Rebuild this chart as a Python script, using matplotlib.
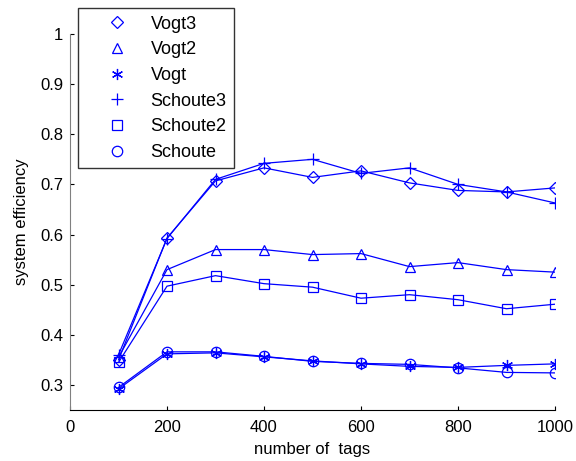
import matplotlib.pyplot as plt
from matplotlib.lines import Line2D
import numpy as np

plt.rcParams['font.family'] = ['Liberation Sans', 'DejaVu Sans']

# number of tags
tags = [100, 200, 300, 400, 500, 600, 700, 800, 900, 1000]

# system efficiency per algorithm
vogt3 = [0.350, 0.593, 0.707, 0.733, 0.714, 0.727, 0.703, 0.688, 0.685, 0.693]
vogt2 = [0.355, 0.530, 0.570, 0.570, 0.560, 0.562, 0.536, 0.544, 0.530, 0.525]
vogt = [0.292, 0.362, 0.364, 0.356, 0.348, 0.342, 0.337, 0.335, 0.339, 0.342]
schoute3 = [0.360, 0.592, 0.710, 0.742, 0.750, 0.722, 0.733, 0.700, 0.685, 0.663]
schoute2 = [0.345, 0.497, 0.518, 0.502, 0.495, 0.473, 0.480, 0.470, 0.452, 0.461]
schoute = [0.295, 0.366, 0.366, 0.357, 0.347, 0.343, 0.341, 0.334, 0.325, 0.324]

series = [
    (vogt3, 'D', 'Vogt3', 6.5),
    (vogt2, '^', 'Vogt2', 7.5),
    (vogt, (6, 2, 0), 'Vogt', 8),
    (schoute3, '+', 'Schoute3', 9),
    (schoute2, 's', 'Schoute2', 7.5),
    (schoute, 'o', 'Schoute', 7.5),
]
blue = '#0000ff'

fig = plt.figure(figsize=(5.76, 4.61), dpi=100)
ax = fig.add_axes([70 / 576, 51 / 461, 485 / 576, 376 / 461])

handles = []
for vals, mk, name, ms in series:
    ax.plot(tags, vals, color=blue, lw=0.9, marker=mk, ms=ms,
            mfc='none', mec=blue, mew=0.9)
    # legend shows markers only
    handles.append(Line2D([], [], ls='none', marker=mk, ms=ms, mfc='none',
                          mec=blue, mew=0.9, label=name))

ax.set_xlim(0, 1000)
ax.set_ylim(0.25, 1.0)
ax.set_xticks([0, 200, 400, 600, 800, 1000])
ax.set_yticks([0.3, 0.4, 0.5, 0.6, 0.7, 0.8, 0.9, 1.0])
ax.set_yticklabels(['0.3', '0.4', '0.5', '0.6', '0.7', '0.8', '0.9', '1'])
ax.tick_params(direction='in', length=3, width=0.8, labelsize=12)
ax.tick_params(axis='x', pad=7)
ax.tick_params(axis='y', pad=5)
ax.spines['top'].set_visible(False)
ax.spines['right'].set_visible(False)
ax.spines['left'].set_color('#808080')
ax.set_xlabel('number of  tags', fontsize=12, labelpad=5)
ax.set_ylabel('system efficiency', fontsize=12, labelpad=8)

leg = fig.legend(handles=handles, loc='upper left',
                 bbox_to_anchor=(78 / 576, 1 - 8 / 461), borderaxespad=0,
                 fontsize=13, frameon=True, fancybox=False, shadow=False,
                 handlelength=3.5, handletextpad=0.1, labelspacing=0.48,
                 borderpad=0.42)
leg.get_frame().set_edgecolor('black')
leg.get_frame().set_linewidth(1.0)

fig.savefig('out.png', dpi=100)
